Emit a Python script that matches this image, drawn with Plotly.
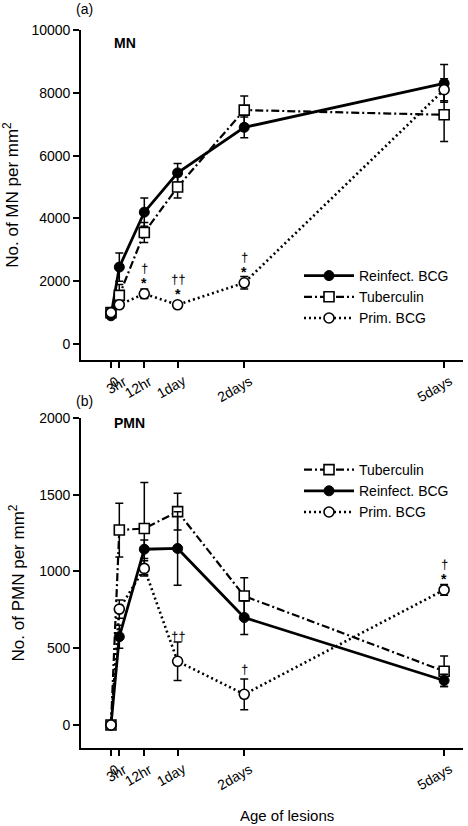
import plotly.graph_objects as go

# ---------------- data ----------------
hours = [0, 3, 12, 24, 48, 120]
tick_text = ["0", "3hr", "12hr", "1day", "2days", "5days"]

mn_reinfect = [900, 2450, 4200, 5450, 6900, 8300]
mn_reinfect_err = [80, 450, 450, 300, 330, 600]
mn_tuberculin = [1000, 1550, 3550, 5000, 7450, 7300]
mn_tuberculin_err = [100, 350, 320, 350, 450, 850]
mn_prim = [1000, 1250, 1600, 1250, 1950, 8100]
mn_prim_err = [80, 100, 150, 60, 200, 350]

pmn_tuberculin = [0, 1270, 1280, 1390, 840, 350]
pmn_tuberculin_err = [0, 175, 300, 120, 120, 100]
pmn_reinfect = [0, 575, 1145, 1150, 700, 290]
pmn_reinfect_err = [0, 75, 60, 240, 110, 40]
pmn_prim = [0, 755, 1020, 415, 200, 880]
pmn_prim_err = [0, 60, 50, 125, 100, 35]

mn_yticks = [0, 2000, 4000, 6000, 8000, 10000]
pmn_yticks = [0, 500, 1000, 1500, 2000]

# significance marks above Prim. BCG points
mn_sig_idx = [2, 3, 4]
mn_sig_dagger = ["†", "††", "†"]
mn_sig_star = ["*", "*", "*"]
pmn_sig_idx = [3, 4, 5]
pmn_sig_dagger = ["††", "†", "†"]
pmn_sig_star = ["", "", "*"]

FONT = "Liberation Sans, Arial, Helvetica, sans-serif"

styles = {
    "Reinfect. BCG": dict(line=dict(color="black", width=2.8, dash="solid"),
                          marker=dict(symbol="circle", size=10, color="black",
                                      line=dict(color="black", width=1))),
    "Tuberculin": dict(line=dict(color="black", width=2.2, dash="8px,3px,2px,3px"),
                       marker=dict(symbol="square", size=10, color="white",
                                   line=dict(color="black", width=1.6))),
    "Prim. BCG": dict(line=dict(color="black", width=2.6, dash="2px,3px"),
                      marker=dict(symbol="circle", size=10, color="white",
                                  line=dict(color="black", width=1.6))),
}

fig = go.Figure()


def add(name, y, err, xa, ya, legend):
    st = styles[name]
    fig.add_trace(go.Scatter(
        x=hours, y=y, name=name, mode="lines+markers",
        line=st["line"], marker=st["marker"],
        error_y=dict(type="data", array=err, visible=True, color="black",
                     thickness=1.5, width=4),
        xaxis=xa, yaxis=ya, legend=legend, showlegend=True, hoverinfo="skip",
    ))


add("Reinfect. BCG", mn_reinfect, mn_reinfect_err, "x", "y", "legend")
add("Tuberculin", mn_tuberculin, mn_tuberculin_err, "x", "y", "legend")
add("Prim. BCG", mn_prim, mn_prim_err, "x", "y", "legend")

add("Tuberculin", pmn_tuberculin, pmn_tuberculin_err, "x2", "y2", "legend2")
add("Reinfect. BCG", pmn_reinfect, pmn_reinfect_err, "x2", "y2", "legend2")
add("Prim. BCG", pmn_prim, pmn_prim_err, "x2", "y2", "legend2")

annotations = []


def sig(idx_list, daggers, stars, values, xr, yr):
    for i, d, s in zip(idx_list, daggers, stars):
        if s:
            annotations.append(dict(x=hours[i], y=values[i], xref=xr, yref=yr,
                                    text=f"<b>{s}</b>", showarrow=False, yshift=11,
                                    font=dict(size=14, family=FONT, color="black")))
        annotations.append(dict(x=hours[i], y=values[i], xref=xr, yref=yr,
                                text=d, showarrow=False, yshift=25, textangle=0.5,
                                font=dict(size=13, family=FONT, color="black")))


sig(mn_sig_idx, mn_sig_dagger, mn_sig_star, mn_prim, "x", "y")
sig(pmn_sig_idx, pmn_sig_dagger, pmn_sig_star, pmn_prim, "x2", "y2")

# rotated x tick labels (drawn at the axis tick positions)
for xr, yr in [("x", "y domain"), ("x2", "y2 domain")]:
    for h, t in zip(hours, tick_text):
        annotations.append(dict(x=h, y=0, xref=xr, yref=yr, text=t, textangle=-30,
                                xanchor="right", yanchor="top", xshift=13, yshift=-10,
                                showarrow=False,
                                font=dict(size=14, family=FONT, color="black")))

# panel labels
W, H = 468, 826
L, R, T, B = 81, 5, 30, 78
pw, ph = W - L - R, H - T - B


def px2paper(xp, yp):
    return (xp - L) / pw, (H - B - yp) / ph


for txt, (xp, yp), bold in [("(a)", (84, 9), False), ("MN", (112, 43), True),
                            ("(b)", (84, 401), False), ("PMN", (112, 423), True)]:
    xx, yy = px2paper(xp, yp)
    annotations.append(dict(x=xx, y=yy, xref="paper", yref="paper",
                            xanchor="center" if not bold else "left", yanchor="middle",
                            text=f"<b>{txt}</b>" if bold else txt, showarrow=False,
                            font=dict(size=14, family=FONT, color="black")))

xx, yy = px2paper(287, 815)
annotations.append(dict(x=xx, y=yy, xref="paper", yref="paper", xanchor="center",
                        yanchor="middle", text="Age of lesions", showarrow=False,
                        font=dict(size=15, family=FONT, color="black")))

axis_common = dict(showline=True, linecolor="black", linewidth=1.6, ticks="outside",
                   ticklen=6, tickwidth=1.5, tickcolor="black", showgrid=False,
                   zeroline=False, automargin=False,
                   tickfont=dict(size=14, family=FONT, color="black"))

xrng = [-10.8, 126.8]
dom_a = [(748 - 360) / ph, 1.0]
dom_b = [0.0, (748 - 418) / ph]

legend_common = dict(xanchor="left", yanchor="top", bgcolor="rgba(0,0,0,0)",
                     font=dict(size=14, family=FONT, color="black"),
                     itemwidth=50, tracegroupgap=0)

fig.update_layout(
    width=W, height=H,
    margin=dict(l=L, r=R, t=T, b=B),
    paper_bgcolor="white", plot_bgcolor="white",
    font=dict(family=FONT, color="black"),
    annotations=annotations,
    hovermode=False,
    xaxis=dict(axis_common, domain=[0, 1], range=xrng, anchor="y",
               tickvals=hours, showticklabels=False),
    yaxis=dict(axis_common, domain=dom_a, range=[-508, 10000], anchor="x",
               tickvals=mn_yticks, tickformat="d",
               title=dict(text="No. of MN per mm<sup>2</sup>", standoff=10,
                          font=dict(size=17, family=FONT, color="black"))),
    xaxis2=dict(axis_common, domain=[0, 1], range=xrng, anchor="y2",
                tickvals=hours, showticklabels=False),
    yaxis2=dict(axis_common, domain=dom_b, range=[-150, 2000], anchor="x2",
                tickvals=pmn_yticks, tickformat="d",
                title=dict(text="No. of PMN per mm<sup>2</sup>", standoff=10,
                           font=dict(size=17, family=FONT, color="black"))),
    legend=dict(legend_common, x=(299 - L) / pw, y=(748 - 260) / ph),
    legend2=dict(legend_common, x=(299 - L) / pw, y=(748 - 454) / ph),
)

fig.write_html("out.html", config={"displayModeBar": False},
               post_script="document.body.style.margin='0';document.body.style.padding='0';")
